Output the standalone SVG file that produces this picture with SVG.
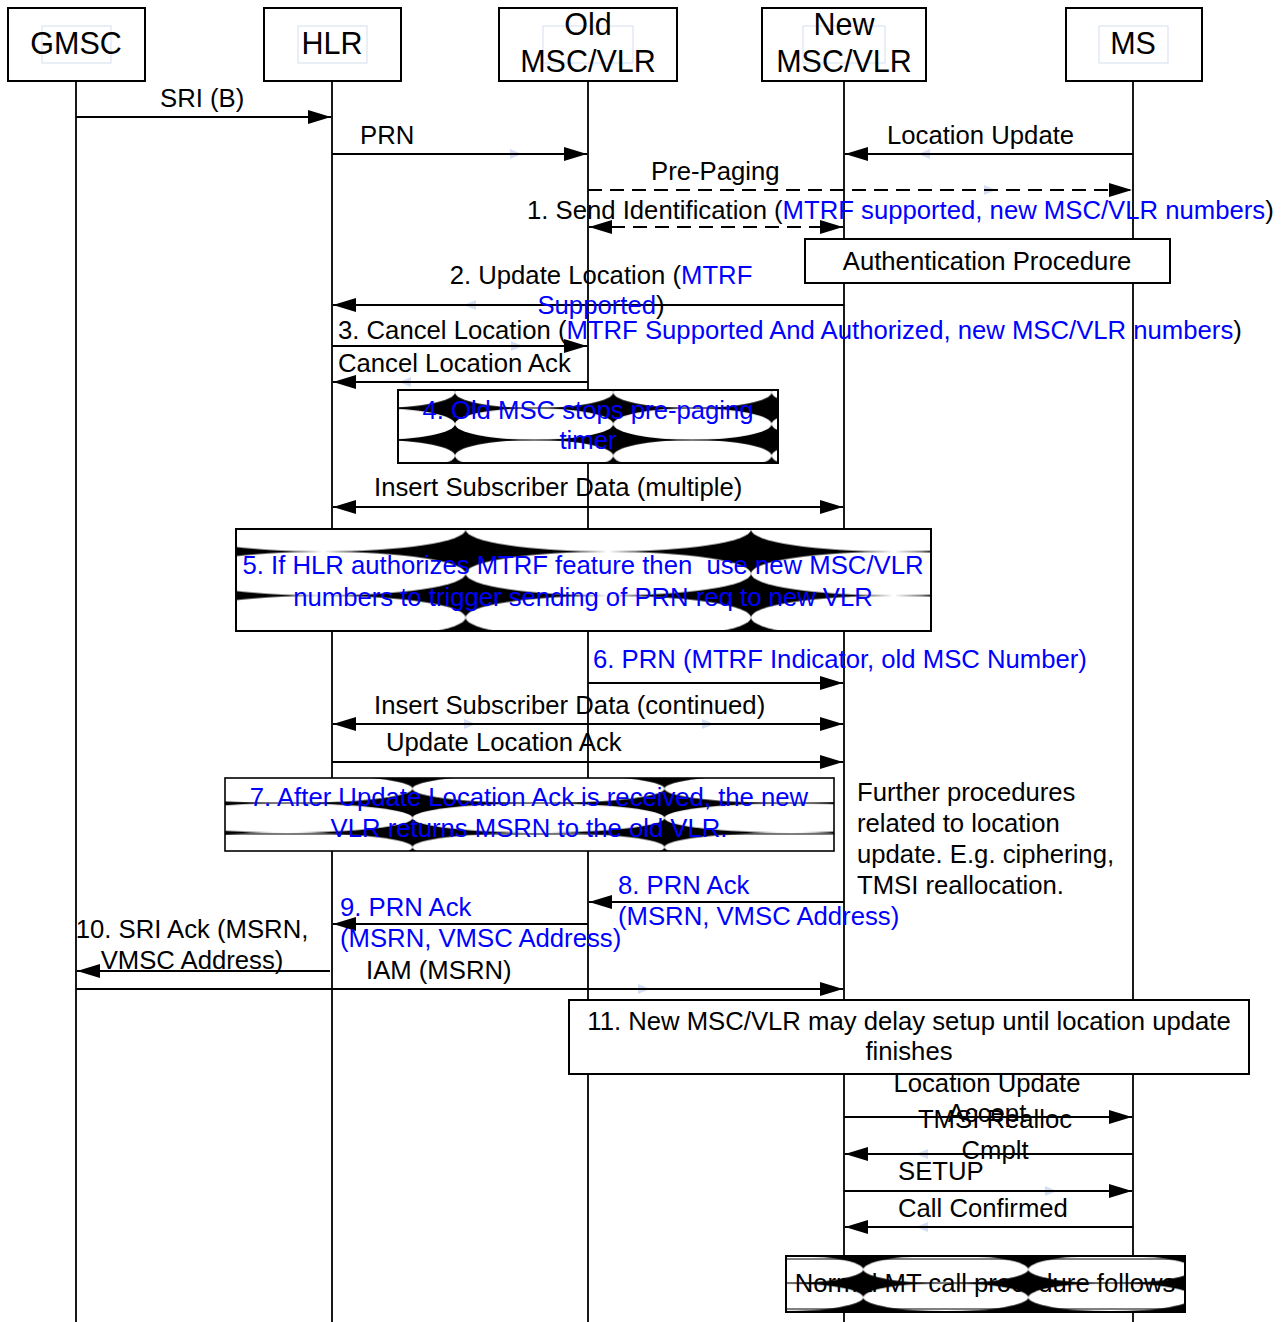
<svg xmlns="http://www.w3.org/2000/svg" width="1284" height="1322" viewBox="0 0 1284 1322">
<style>
text{font-family:"Liberation Sans",Arial,sans-serif;font-size:25.7px;fill:#000}
.h{font-size:30.5px}
.b{fill:#0000ff}
.box{fill:#fff;stroke:#000;stroke-width:2}
.ghost{fill:none;stroke:#d4deef;stroke-width:1}
.life{stroke:#000;stroke-width:1.8}
.msg{stroke:#000;stroke-width:1.8;fill:none;marker-end:url(#ah)}
.bi{marker-start:url(#ah)}
.dash{stroke-dasharray:14 8}
.ga{fill:#d3def2}
.hl{stroke:#000;stroke-width:1}
</style>
<defs>
<marker id="ah" markerUnits="userSpaceOnUse" viewBox="0 0 23 14" markerWidth="23" markerHeight="14" refX="23" refY="7" orient="auto-start-reverse"><path d="M0,0 L23,7 L0,14 z" fill="#000"/></marker>
<pattern id="p4" patternUnits="userSpaceOnUse" x="455" y="376.5" width="158.3" height="31.7"><rect width="158.3" height="31.7" fill="#000"/><ellipse cx="79.15" cy="15.85" rx="79.15" ry="15.85" fill="#fff"/></pattern>
<pattern id="p5" patternUnits="userSpaceOnUse" x="465.6" y="551.6" width="285.4" height="44"><rect width="285.4" height="44" fill="#000"/><ellipse cx="142.7" cy="22" rx="142.7" ry="22" fill="#fff"/></pattern>
<pattern id="p7" patternUnits="userSpaceOnUse" x="412.5" y="803.3" width="252" height="29.3"><rect width="252" height="29.3" fill="#000"/><ellipse cx="126" cy="14.65" rx="126" ry="14.65" fill="#fff"/></pattern>
<pattern id="p11" patternUnits="userSpaceOnUse" x="863.3" y="1283.3" width="165" height="28"><rect width="165" height="28" fill="#000"/><ellipse cx="82.5" cy="14" rx="82.5" ry="14" fill="#fff"/></pattern>
</defs>
<rect width="1284" height="1322" fill="#fff"/>

<g id="lifelines">
<line class="life" x1="76" y1="81" x2="76" y2="1322"/>
<line class="life" x1="332" y1="81" x2="332" y2="1322"/>
<line class="life" x1="588" y1="81" x2="588" y2="1322"/>
<line class="life" x1="844" y1="81" x2="844" y2="1322"/>
<line class="life" x1="1133" y1="81" x2="1133" y2="1322"/>
</g>

<g id="node-gmsc"><rect class="box" x="8" y="8" width="137" height="73"/><rect class="ghost" x="42" y="26" width="69" height="37"/><text class="h" x="76" y="54" text-anchor="middle">GMSC</text></g>
<g id="node-hlr"><rect class="box" x="264" y="8" width="137" height="73"/><rect class="ghost" x="298" y="26" width="69" height="37"/><text class="h" x="332" y="54" text-anchor="middle">HLR</text></g>
<g id="node-old"><rect class="box" x="499" y="8" width="178" height="73"/><rect class="ghost" x="543" y="26" width="90" height="37"/><text class="h" x="588" y="35" text-anchor="middle">Old</text><text class="h" x="588" y="72" text-anchor="middle">MSC/VLR</text></g>
<g id="node-new"><rect class="box" x="762" y="8" width="164" height="73"/><rect class="ghost" x="803" y="26" width="82" height="37"/><text class="h" x="844" y="35" text-anchor="middle">New</text><text class="h" x="844" y="72" text-anchor="middle">MSC/VLR</text></g>
<g id="node-ms"><rect class="box" x="1066" y="8" width="136" height="73"/><rect class="ghost" x="1099" y="26" width="69" height="37"/><text class="h" x="1133" y="54" text-anchor="middle">MS</text></g>

<g id="connectors">
<path class="ga" d="M510,149 L522,154 L510,159 z"/>
<path class="ga" d="M930,149 L918,154 L930,159 z"/>
<path class="ga" d="M984,185 L996,190 L984,195 z"/>
<path class="ga" d="M476,300 L464,305 L476,310 z"/>
<path class="ga" d="M511,341 L523,346 L511,351 z"/>
<path class="ga" d="M411,377 L399,382 L411,387 z"/>
<path class="ga" d="M464,719 L476,724 L464,729 z"/>
<path class="ga" d="M702,719 L714,724 L702,729 z"/>
<path class="ga" d="M638,984 L650,989 L638,994 z"/>
<path class="ga" d="M928,1149 L916,1154 L928,1159 z"/>
<path class="ga" d="M1045,1186 L1057,1191 L1045,1196 z"/>
<path class="ga" d="M928,1222 L916,1227 L928,1232 z"/>
<line class="msg" x1="76" y1="117" x2="331" y2="117"/>
<line class="msg" x1="332" y1="154" x2="587" y2="154"/>
<line class="msg" x1="1133" y1="154" x2="845" y2="154"/>
<line class="msg dash" x1="588" y1="190" x2="1132" y2="190"/>
<line class="msg dash bi" x1="589" y1="227" x2="843" y2="227"/>
<line class="msg" x1="844" y1="305" x2="333" y2="305"/>
<line class="msg" x1="332" y1="346" x2="587" y2="346"/>
<line class="msg" x1="588" y1="382" x2="333" y2="382"/>
<line class="msg bi" x1="333" y1="507" x2="843" y2="507"/>
<line class="msg" x1="588" y1="683" x2="843" y2="683"/>
<line class="msg bi" x1="333" y1="724" x2="843" y2="724"/>
<line class="msg" x1="332" y1="762" x2="843" y2="762"/>
<line class="msg" x1="844" y1="902" x2="589" y2="902"/>
<line class="msg" x1="588" y1="924" x2="333" y2="924"/>
<line class="msg" x1="330" y1="971" x2="77" y2="971"/>
<line class="msg" x1="76" y1="989" x2="843" y2="989"/>
<line class="msg" x1="844" y1="1117" x2="1132" y2="1117"/>
<line class="msg" x1="1133" y1="1154" x2="845" y2="1154"/>
<line class="msg" x1="844" y1="1191" x2="1132" y2="1191"/>
<line class="msg" x1="1133" y1="1227" x2="845" y2="1227"/>
</g>

<g id="labels">
<text x="160" y="107">SRI (B)</text>
<text x="360" y="144">PRN</text>
<text x="887" y="144">Location Update</text>
<text x="651" y="180">Pre-Paging</text>
<text x="527" y="219">1. Send Identification (<tspan class="b">MTRF supported, new MSC/VLR numbers</tspan>)</text>
<text x="601" y="284" text-anchor="middle">2. Update Location (<tspan class="b">MTRF</tspan></text>
<text x="601" y="314" text-anchor="middle"><tspan class="b">Supported</tspan>)</text>
<text x="338" y="339">3. Cancel Location (<tspan class="b">MTRF Supported And Authorized, new MSC/VLR numbers</tspan>)</text>
<text x="338" y="372">Cancel Location Ack</text>
<text x="374" y="496">Insert Subscriber Data (multiple)</text>
<text class="b" x="593" y="668">6. PRN (MTRF Indicator, old MSC Number)</text>
<text x="374" y="714">Insert Subscriber Data (continued)</text>
<text x="386" y="751">Update Location Ack</text>
<text x="857" y="801">Further procedures</text>
<text x="857" y="832">related to location</text>
<text x="857" y="863">update. E.g. ciphering,</text>
<text x="857" y="894">TMSI reallocation.</text>
<text class="b" x="618" y="894">8. PRN Ack</text>
<text class="b" x="618" y="925">(MSRN, VMSC Address)</text>
<text class="b" x="340" y="916">9. PRN Ack</text>
<text class="b" x="340" y="947">(MSRN, VMSC Address)</text>
<text x="192" y="938" text-anchor="middle">10. SRI Ack (MSRN,</text>
<text x="192" y="969" text-anchor="middle">VMSC Address)</text>
<text x="366" y="979">IAM (MSRN)</text>
<text x="987" y="1092" text-anchor="middle">Location Update</text>
<text x="987" y="1122" text-anchor="middle">Accept</text>
<text x="995" y="1128" text-anchor="middle">TMSI Realloc</text>
<text x="995" y="1159" text-anchor="middle">Cmplt</text>
<text x="898" y="1180">SETUP</text>
<text x="898" y="1217">Call Confirmed</text>
</g>

<g id="node-auth"><rect class="box" x="805" y="239" width="365" height="44"/><text x="987" y="270" text-anchor="middle">Authentication Procedure</text></g>

<g id="note-4">
<rect x="398" y="390" width="380" height="73" fill="url(#p4)"/>
<line class="hl" x1="398" y1="408" x2="778" y2="408"/>
<line class="hl" x1="398" y1="440" x2="778" y2="440"/>
<rect x="398" y="390" width="380" height="73" fill="none" stroke="#000" stroke-width="2"/>
<text class="b" x="588" y="419" text-anchor="middle">4. Old MSC stops pre-paging</text>
<text class="b" x="588" y="449" text-anchor="middle">timer</text>
</g>

<g id="note-5">
<rect x="236" y="529" width="695" height="102" fill="url(#p5)"/>
<rect x="236" y="529" width="695" height="102" fill="none" stroke="#000" stroke-width="2"/>
<text class="b" x="583" y="574" text-anchor="middle" xml:space="preserve">5. If HLR authorizes MTRF feature then  use new MSC/VLR</text>
<text class="b" x="583" y="606" text-anchor="middle">numbers to trigger sending of PRN req to new VLR</text>
</g>

<g id="note-7">
<rect x="225" y="778" width="609" height="73" fill="url(#p7)"/>
<line class="hl" x1="225" y1="803" x2="834" y2="803"/>
<line class="hl" x1="225" y1="834" x2="834" y2="834"/>
<rect x="225" y="778" width="609" height="73" fill="none" stroke="#000" stroke-width="1.6"/>
<text class="b" x="529" y="806" text-anchor="middle">7. After Update Location Ack is received, the new</text>
<text class="b" x="529" y="837" text-anchor="middle">VLR returns MSRN to the old VLR.</text>
</g>

<g id="note-11"><rect class="box" x="569" y="1000" width="680" height="74"/><text x="909" y="1030" text-anchor="middle">11. New MSC/VLR may delay setup until location update</text><text x="909" y="1060" text-anchor="middle">finishes</text></g>

<g id="note-normal">
<rect x="786" y="1256" width="399" height="56" fill="url(#p11)"/>
<line class="hl" x1="786" y1="1259" x2="1185" y2="1259"/>
<line class="hl" x1="786" y1="1283" x2="1185" y2="1283"/>
<line class="hl" x1="786" y1="1309" x2="1185" y2="1309"/>
<rect x="786" y="1256" width="399" height="56" fill="none" stroke="#000" stroke-width="2"/>
<text x="985" y="1292" text-anchor="middle">Normal MT call procedure follows</text>
</g>
</svg>
